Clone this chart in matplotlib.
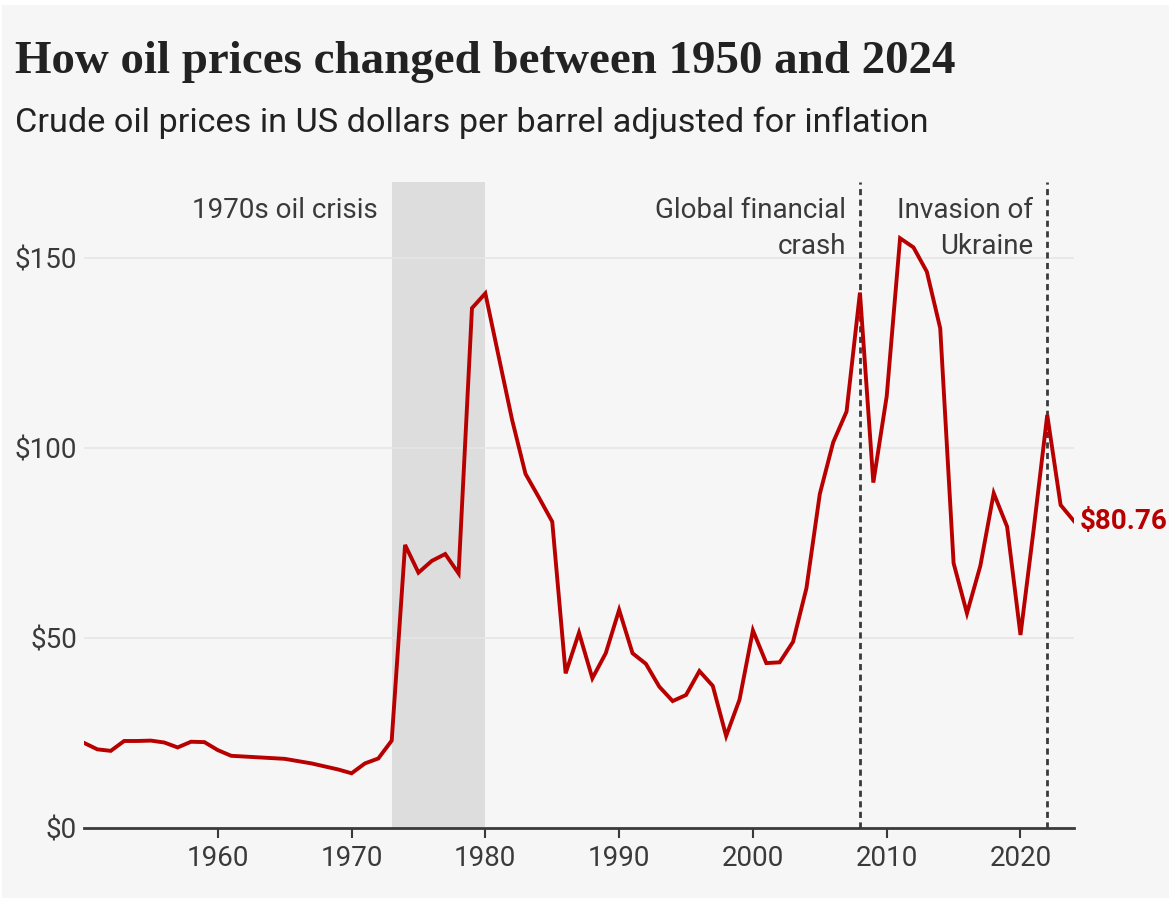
import matplotlib
matplotlib.use("Agg")
import matplotlib.pyplot as plt
from matplotlib.patches import Rectangle

# ---- data ----
years = list(range(1950, 2025))
prices = [22.4, 20.7, 20.3, 22.9, 22.9, 23.0, 22.5, 21.2, 22.7, 22.6,
          20.5, 19.0, 18.8, 18.6, 18.4, 18.2, 17.6, 17.0, 16.2, 15.4,
          14.4, 17.0, 18.3, 23.0, 74.5, 67.2, 70.3, 72.1, 67.0, 136.8,
          140.7, 124.0, 107.4, 93.2, 87.0, 80.6, 40.7, 51.4, 39.4, 46.0,
          57.4, 46.0, 43.2, 37.2, 33.4, 35.0, 41.3, 37.4, 24.2, 33.8,
          52.0, 43.4, 43.6, 49.0, 63.1, 87.9, 101.5, 109.6, 140.9, 90.9,
          113.6, 155.2, 152.8, 146.4, 131.5, 69.7, 56.5, 69.0, 88.1, 79.3,
          50.8, 79.0, 108.7, 85.0, 80.76]
x_ticks = [1960, 1970, 1980, 1990, 2000, 2010, 2020]
y_ticks = [0, 50, 100, 150]
y_tick_labels = ["$0", "$50", "$100", "$150"]
crisis_span = (1973, 1980)
crisis_label = "1970s oil crisis"
events = [(2008, "Global financial\ncrash"), (2022, "Invasion of\nUkraine")]
last_label = "$80.76"

title = "How oil prices changed between 1950 and 2024"
subtitle = "Crude oil prices in US dollars per barrel adjusted for inflation"

BG = "#f6f6f6"
RED = "#b80000"
DARK = "#3a3a3a"
SANS = ["Roboto", "DejaVu Sans"]

fig = plt.figure(figsize=(11.69, 9.02), dpi=100, facecolor="white")
fig.patches.append(Rectangle((2 / 1169, 4 / 902), 1 - 2 / 1169, 893 / 902,
                             transform=fig.transFigure, facecolor=BG,
                             edgecolor="none", zorder=-10))

ax = fig.add_axes([84 / 1169, 74 / 902, 990 / 1169, 646 / 902])
ax.patch.set_alpha(0)

ax.set_xlim(1950, 2024)
ax.set_ylim(0, 170)

# shading
ax.axvspan(crisis_span[0], crisis_span[1], color="#dddddd", zorder=0, lw=0)
ax.annotate(crisis_label, xy=(crisis_span[0], 166.0), xytext=(-14, 0),
            textcoords="offset pixels", ha="right", va="top",
            fontsize=20, color=DARK, family=SANS)

# grid
for yv in y_ticks[1:]:
    ax.axhline(yv, color="#e6e6e6", lw=1.2, zorder=1)

# event lines
for ex, label in events:
    ax.axvline(ex, color=DARK, lw=2, linestyle=(0, (2.2, 1.6)), zorder=2)
    ax.annotate(label, xy=(ex, 166.0), xytext=(-14, 0),
                textcoords="offset pixels", ha="right", va="top",
                fontsize=20, color=DARK, family=SANS, linespacing=1.4)

# line
ax.plot(years, prices, color=RED, lw=2.8, zorder=3, solid_joinstyle="miter")
ax.annotate(last_label, xy=(years[-1], prices[-1]), xytext=(6, 0),
            textcoords="offset pixels", ha="left", va="center",
            fontsize=20, fontweight="bold", color=RED, family=SANS,
            annotation_clip=False)

# axes styling
for s in ["top", "right", "left"]:
    ax.spines[s].set_visible(False)
ax.spines["bottom"].set_color(DARK)
ax.spines["bottom"].set_linewidth(2)
ax.spines["bottom"].set_zorder(4)
ax.set_xticks(x_ticks)
ax.set_xticklabels([str(v) for v in x_ticks], fontsize=20, color=DARK,
                   family=SANS)
ax.tick_params(axis="x", length=7, width=1.5, color=DARK, pad=5)
ax.set_yticks(y_ticks)
ax.set_yticklabels(y_tick_labels, fontsize=20, color=DARK, family=SANS)
ax.tick_params(axis="y", length=0, pad=5)

fig.text(15 / 1169, 1 - 73 / 902, title, ha="left", va="baseline",
         fontsize=33.8, fontweight="bold", color="#222222",
         family=["Liberation Serif", "DejaVu Serif"])
fig.text(15 / 1169, 1 - 132 / 902, subtitle, ha="left", va="baseline",
         fontsize=24.7, color="#222222", family=SANS)

fig.savefig("out.png", dpi=100, facecolor="white")
